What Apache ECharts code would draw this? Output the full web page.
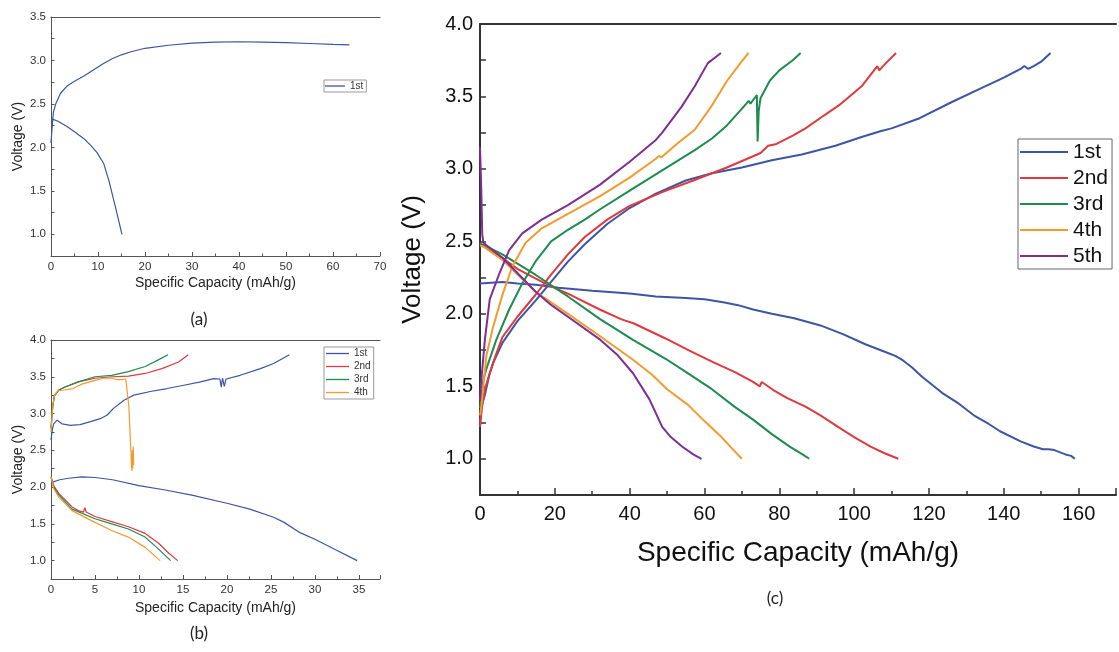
<!DOCTYPE html>
<html>
<head>
<meta charset="utf-8">
<script src="https://cdn.jsdelivr.net/npm/echarts@6/dist/echarts.min.js"></script>
<style>
html,body{margin:0;padding:0;background:#fff;}
#chart{width:1119px;height:652px;}
</style>
</head>
<body>
<div id="chart"></div>
<script>
// ---------- Panel (a): 1st cycle ----------
const A_1st_charge = [[0,2.05],[0.2,2.2],[0.5,2.4],[1,2.5],[2,2.62],[3.5,2.71],[5,2.76],[7,2.82],[9,2.89],[11,2.96],[13,3.02],[15,3.065],[17,3.10],[20,3.14],[25,3.175],[30,3.2],[35,3.21],[40,3.215],[45,3.21],[50,3.205],[55,3.195],[60,3.185],[63.5,3.18]];
const A_1st_discharge = [[0,2.33],[1.5,2.3],[3.4,2.24],[5,2.18],[7,2.10],[8.5,2.02],[9.8,1.94],[11.2,1.815],[12.3,1.62],[13.7,1.315],[15.1,1.0]];

// ---------- Panel (b): cycles 1-4 ----------
const B_1st_charge = [[0,2.64],[0.15,2.78],[0.3,2.86],[0.7,2.91],[1.25,2.86],[2.2,2.84],[3.3,2.85],[4.5,2.89],[5.6,2.93],[6.4,2.98],[7.1,3.07],[8.3,3.18],[9.4,3.25],[11.3,3.30],[13.2,3.34],[15.1,3.385],[17,3.43],[18.5,3.475],[19.2,3.47],[19.35,3.36],[19.5,3.48],[19.7,3.37],[19.9,3.47],[21.5,3.52],[23.8,3.61],[25.3,3.68],[27.1,3.80]];
const B_1st_discharge = [[0,2.06],[1,2.1],[2,2.12],[3.5,2.14],[5,2.13],[7,2.1],[10,2.02],[13,1.96],[16,1.89],[20,1.78],[22.6,1.70],[25.3,1.59],[26.5,1.52],[28.3,1.38],[30,1.29],[32.3,1.15],[34.8,1.0]];
const B_2nd_charge = [[0,2.8],[0.2,3.1],[0.4,3.25],[0.9,3.32],[1.6,3.36],[3.1,3.43],[5,3.48],[7,3.50],[8.8,3.51],[10.7,3.545],[12.6,3.61],[14.5,3.70],[15.6,3.80]];
const B_2nd_discharge = [[0,2.14],[0.3,2.02],[0.9,1.91],[2.4,1.73],[3.1,1.68],[3.7,1.66],[3.85,1.72],[4.0,1.66],[5,1.60],[6.9,1.53],[8.8,1.46],[10.7,1.37],[12.2,1.24],[13.4,1.10],[14.4,1.0]];
const B_3rd_charge = [[0,2.8],[0.2,3.1],[0.4,3.24],[0.9,3.32],[1.6,3.36],[3.1,3.43],[5,3.50],[6.9,3.52],[8.8,3.57],[10.7,3.64],[12.2,3.73],[13.3,3.80]];
const B_3rd_discharge = [[0,2.14],[0.3,2.0],[0.9,1.89],[2.4,1.70],[5,1.57],[6.9,1.50],[8.8,1.43],[10.7,1.32],[12.2,1.16],[13.6,1.0]];
const B_4th_charge = [[0,2.75],[0.2,3.1],[0.4,3.25],[0.8,3.31],[1.5,3.32],[2.5,3.34],[3.5,3.40],[5,3.45],[6,3.48],[7,3.48],[7.5,3.46],[8,3.46],[8.5,3.47],[8.7,3.45],[8.85,3.1],[9.0,2.7],[9.15,2.3],[9.2,2.22],[9.25,2.5],[9.3,2.25],[9.35,2.55],[9.4,2.3]];
const B_4th_discharge = [[0,2.14],[0.3,1.98],[0.9,1.86],[2.4,1.68],[5,1.52],[6.9,1.41],[8.8,1.32],[10.7,1.18],[12.4,1.0]];

// ---------- Panel (c): cycles 1-5 ----------
const C_1st_charge = [[0,1.25],[0.5,1.37],[1.3,1.44],[2.5,1.58],[3.5,1.66],[6,1.80],[10,1.95],[14.8,2.09],[19,2.22],[23.5,2.36],[28,2.48],[34,2.62],[40,2.73],[47,2.83],[55,2.92],[62,2.97],[70,3.01],[78,3.06],[86,3.10],[95,3.16],[102,3.22],[107,3.26],[110,3.28],[117.5,3.35],[126,3.46],[135,3.57],[140,3.63],[144.5,3.69],[145.5,3.71],[146.5,3.69],[148,3.71],[150,3.74],[152.5,3.80]];
const C_1st_discharge = [[0,2.21],[3,2.215],[6,2.22],[10,2.21],[15,2.20],[21,2.18],[30,2.16],[40,2.14],[47,2.12],[55,2.11],[60,2.10],[65,2.08],[69,2.06],[73,2.03],[78,2.00],[84,1.97],[91,1.92],[97,1.86],[103,1.79],[108,1.74],[111,1.71],[113,1.68],[115.5,1.63],[118,1.57],[123.5,1.455],[128,1.38],[132,1.30],[136,1.24],[139,1.19],[144.5,1.12],[148,1.085],[150.5,1.066],[152,1.065],[153.5,1.06],[156.5,1.03],[158,1.02],[159,1.0]];
const C_2nd_charge = [[0,1.22],[0.5,1.35],[1.3,1.48],[2.6,1.59],[4,1.7],[6,1.84],[10,1.98],[14.8,2.13],[19,2.27],[23.5,2.41],[28,2.53],[34,2.65],[40,2.745],[48.7,2.84],[57,2.92],[66,3.01],[75,3.11],[77,3.16],[78,3.165],[79,3.17],[83.6,3.23],[87,3.28],[92,3.37],[96,3.44],[102,3.57],[106.2,3.71],[106.7,3.68],[108.5,3.73],[111.2,3.80]];
const C_2nd_discharge = [[0,2.49],[0.9,2.465],[6,2.385],[10,2.31],[14.8,2.245],[19,2.19],[23.5,2.14],[32,2.03],[38,1.96],[41,1.935],[49.6,1.83],[55.7,1.75],[62,1.67],[68,1.60],[73,1.53],[74.8,1.50],[75.3,1.53],[78.3,1.476],[82,1.42],[87,1.36],[91,1.30],[95.7,1.22],[100,1.15],[104.4,1.084],[108,1.04],[111.8,1.0]];
const C_3rd_charge = [[0,1.35],[0.9,1.545],[1.7,1.62],[4.35,1.82],[7.8,2.03],[11.3,2.21],[14.8,2.36],[19,2.50],[23.5,2.58],[28,2.65],[32,2.72],[40,2.85],[48.7,2.99],[57.4,3.13],[62,3.21],[66,3.30],[70.5,3.43],[71.8,3.47],[72.3,3.45],[74,3.51],[74.2,3.19],[74.5,3.40],[75,3.49],[77.5,3.61],[80,3.68],[83.6,3.75],[85.7,3.80]];
const C_3rd_discharge = [[0,2.48],[0.9,2.476],[6,2.41],[14.8,2.27],[23.5,2.12],[32,1.965],[40.9,1.82],[49.6,1.69],[55,1.60],[62,1.48],[68,1.36],[73,1.27],[78,1.17],[83,1.08],[86.2,1.03],[88,1.0]];
const C_4th_charge = [[0,1.3],[0.4,1.37],[1.7,1.71],[3.5,1.91],[6.1,2.14],[8.7,2.33],[12.2,2.49],[16.5,2.59],[23.5,2.69],[32,2.81],[40,2.94],[47,3.07],[47.8,3.09],[48.5,3.08],[53,3.18],[57.4,3.27],[61.8,3.43],[66.1,3.61],[69.6,3.73],[71.8,3.80]];
const C_4th_discharge = [[0,2.47],[0.9,2.465],[6.1,2.37],[14.8,2.154],[23.5,2.0],[32.2,1.844],[40.9,1.683],[46,1.58],[50,1.48],[55.7,1.37],[60,1.26],[64.4,1.154],[67,1.08],[70,1.0]];
const C_5th_charge = [[0,1.4],[0.2,1.5],[1.3,1.82],[2.6,2.10],[5.2,2.28],[7.8,2.44],[11.3,2.555],[16.5,2.65],[23.5,2.75],[32,2.89],[40,3.05],[47,3.2],[48.7,3.25],[53.9,3.43],[57.4,3.57],[60.9,3.73],[64.4,3.80]];
const C_5th_discharge = [[0,3.15],[0.3,2.9],[0.6,2.55],[0.9,2.49],[6.1,2.385],[14.8,2.154],[19.1,2.06],[23.5,1.98],[32.2,1.82],[36.6,1.72],[40.9,1.59],[45.3,1.41],[48.7,1.22],[51,1.15],[54,1.085],[57,1.03],[59.2,1.0]];

// ---------- labels ----------
const cycleNames = ['1st','2nd','3rd','4th','5th'];
const cycleColors = ['#3d55a3','#e0393e','#1e8b4f','#f29b2f','#7d2f93'];
const xTitle = 'Specific Capacity (mAh/g)';
const yTitle = 'Voltage (V)';
const captions = ['(a)','(b)','(c)'];

const FONT = 'Liberation Sans';

function yFmt(v){ return Math.abs(v*2 - Math.round(v*2)) < 1e-6 ? v.toFixed(1) : ''; }

function line(name, data, xi, yi, w){
  const c = cycleColors[cycleNames.indexOf(name)];
  return {name, type:'line', data, xAxisIndex:xi, yAxisIndex:yi, symbol:'none', showSymbol:false,
    lineStyle:{color:c, width:w}, itemStyle:{color:c}, animation:false, z:3};
}

const series = [
  line('1st', C_1st_charge, 4, 2, 2), line('1st', C_1st_discharge, 4, 2, 2),
  line('2nd', C_2nd_charge, 4, 2, 2), line('2nd', C_2nd_discharge, 4, 2, 2),
  line('3rd', C_3rd_charge, 4, 2, 2), line('3rd', C_3rd_discharge, 4, 2, 2),
  line('4th', C_4th_charge, 4, 2, 2), line('4th', C_4th_discharge, 4, 2, 2),
  line('5th', C_5th_charge, 4, 2, 2), line('5th', C_5th_discharge, 4, 2, 2),
  line('1st', A_1st_charge, 0, 0, 1.2), line('1st', A_1st_discharge, 0, 0, 1.2),
  line('1st', B_1st_charge, 2, 1, 1.2), line('1st', B_1st_discharge, 2, 1, 1.2),
  line('2nd', B_2nd_charge, 2, 1, 1.2), line('2nd', B_2nd_discharge, 2, 1, 1.2),
  line('3rd', B_3rd_charge, 2, 1, 1.2), line('3rd', B_3rd_discharge, 2, 1, 1.2),
  line('4th', B_4th_charge, 2, 1, 1.2), line('4th', B_4th_discharge, 2, 1, 1.2)
];

function smallX(grid, max, interval, nameGap){
  return {type:'value', gridIndex:grid, min:0, max, interval, position:'bottom',
    axisLine:{show:true, onZero:false, lineStyle:{color:'#555', width:1}},
    axisTick:{show:true, inside:true, length:4, lineStyle:{color:'#555'}},
    minorTick:{show:true, splitNumber:2, length:2.5, lineStyle:{color:'#555'}},
    splitLine:{show:false},
    axisLabel:{color:'#333', fontSize:11.5, fontFamily:FONT, margin:5,
      formatter:v=> (Math.abs(v/interval - Math.round(v/interval))<1e-6) ? String(v) : ''},
    name:xTitle, nameLocation:'middle', nameGap,
    nameTextStyle:{fontSize:14, color:'#222', fontFamily:FONT}};
}
function topX(grid, max, color, width){
  return {type:'value', gridIndex:grid, min:0, max, position:'top',
    axisLine:{show:true, onZero:false, lineStyle:{color, width}},
    axisTick:{show:false}, axisLabel:{show:false}, splitLine:{show:false}};
}
function smallY(grid, max, nameGap){
  return {type:'value', gridIndex:grid, min:0.75, max, interval:0.25,
    axisLine:{show:true, onZero:false, lineStyle:{color:'#555', width:1}},
    axisTick:{show:true, inside:true, length:3.5, lineStyle:{color:'#555'}},
    splitLine:{show:false},
    axisLabel:{color:'#333', fontSize:11.5, fontFamily:FONT, margin:5, formatter:yFmt},
    name:yTitle, nameLocation:'middle', nameGap,
    nameTextStyle:{fontSize:14, color:'#222', fontFamily:FONT}};
}

const option = {
  backgroundColor:'#ffffff',
  animation:false,
  grid:[
    {left:51, top:17, width:329, height:239},
    {left:51, top:340, width:329, height:239},
    {left:480, top:24, width:651, height:471}
  ],
  xAxis:[
    smallX(0, 70, 10, 20),
    topX(0, 70, '#555', 1),
    smallX(1, 37.4, 5, 22),
    topX(1, 37.4, '#555', 1),
    {type:'value', gridIndex:2, min:0, max:170, interval:20, position:'bottom',
      axisLine:{show:true, onZero:false, lineStyle:{color:'#333', width:2}},
      axisTick:{show:true, inside:true, length:7, lineStyle:{color:'#333', width:1.5}},
      minorTick:{show:true, splitNumber:2, length:4, lineStyle:{color:'#333', width:1.5}},
      splitLine:{show:false},
      axisLabel:{color:'#111', fontSize:20, fontFamily:FONT, margin:9,
        formatter:v=> (v % 20 === 0 && v <= 160) ? String(v) : ''},
      name:xTitle, nameLocation:'middle', nameGap:44,
      nameTextStyle:{fontSize:28, color:'#111', fontFamily:FONT}},
    topX(2, 170, '#333', 2)
  ],
  yAxis:[
    smallY(0, 3.5, 26),
    smallY(1, 4.0, 26),
    {type:'value', gridIndex:2, min:0.75, max:4.0, interval:0.25,
      axisLine:{show:true, onZero:false, lineStyle:{color:'#333', width:2}},
      axisTick:{show:true, inside:true, length:6, lineStyle:{color:'#333', width:1.5}},
      splitLine:{show:false},
      axisLabel:{color:'#111', fontSize:20, fontFamily:FONT, margin:7, formatter:yFmt},
      name:yTitle, nameLocation:'middle', nameGap:54,
      nameTextStyle:{fontSize:26, color:'#111', fontFamily:FONT}}
  ],
  legend:[
    {data:['1st'], orient:'vertical', left:324, top:80, icon:'rect', itemWidth:20, itemHeight:1.3, itemGap:0, itemTextGap:2,
      padding:[0,3,0,1], borderColor:'#999', borderWidth:1, selectedMode:false,
      textStyle:{fontSize:10, color:'#333', fontFamily:FONT, lineHeight:12}},
    {data:['1st','2nd','3rd','4th'], orient:'vertical', left:324, top:347, icon:'rect', itemWidth:23, itemHeight:1.3, itemGap:0, itemTextGap:3,
      padding:[0,3,0,2], borderColor:'#999', borderWidth:1, selectedMode:false,
      textStyle:{fontSize:10, color:'#333', fontFamily:FONT, lineHeight:13}},
    {data:cycleNames, orient:'vertical', left:1018, top:139, icon:'rect', itemWidth:48, itemHeight:2.2, itemGap:0, itemTextGap:5,
      padding:[0,4,0,2], borderColor:'#666', borderWidth:1, selectedMode:false,
      textStyle:{fontSize:21, color:'#111', fontFamily:FONT, lineHeight:26}}
  ],
  graphic:[
    {type:'text', x:199, y:320, style:{text:captions[0], align:'center', verticalAlign:'middle', fontSize:17, fontFamily:'Lato', fill:'#222'}},
    {type:'text', x:199, y:634, style:{text:captions[1], align:'center', verticalAlign:'middle', fontSize:17, fontFamily:'Lato', fill:'#222'}},
    {type:'text', x:775, y:599, style:{text:captions[2], align:'center', verticalAlign:'middle', fontSize:17, fontFamily:'Lato', fill:'#222'}}
  ],
  series
};

const chart = echarts.init(document.getElementById('chart'), null, {renderer:'canvas'});
chart.setOption(option);
</script>
</body>
</html>
